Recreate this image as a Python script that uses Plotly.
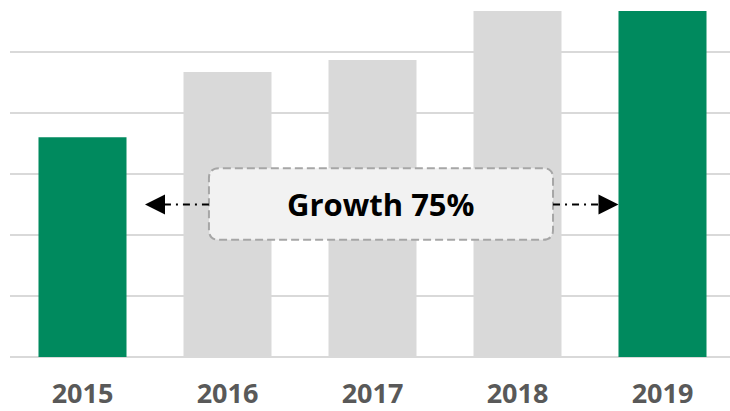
import plotly.graph_objects as go

# Yearly values; the first and last years are highlighted
years = ["2015", "2016", "2017", "2018", "2019"]
values = [72, 93.4, 97.3, 118, 126]
highlight = [True, False, False, False, True]
growth_label = "Growth 75%"

GREEN = "#008A5E"
GREY = "#D9D9D9"
bar_colors = [GREEN if h else GREY for h in highlight]

BAR_WIDTH = 0.607
x_idx = list(range(len(years)))

fig = go.Figure(
    go.Bar(
        x=x_idx,
        y=values,
        width=BAR_WIDTH,
        marker=dict(color=bar_colors, line=dict(width=0)),
        hoverinfo="skip",
    )
)

# Callout box (rounded, dashed) in data coordinates
bx0, bx1 = 0.872, 3.245
by0, by1 = 38.4, 61.9
rx, ry = 0.07, 3.3
box_path = (
    f"M {bx0 + rx},{by0} L {bx1 - rx},{by0} Q {bx1},{by0} {bx1},{by0 + ry} "
    f"L {bx1},{by1 - ry} Q {bx1},{by1} {bx1 - rx},{by1} "
    f"L {bx0 + rx},{by1} Q {bx0},{by1} {bx0},{by1 - ry} "
    f"L {bx0},{by0 + ry} Q {bx0},{by0} {bx0 + rx},{by0} Z"
)

arrow_y = 50
left_tip = 0.431
right_tip = x_idx[-1] - BAR_WIDTH / 2
head_len = 0.115

shapes = [
    dict(type="path", path=box_path, xref="x", yref="y",
         fillcolor="#F2F2F2",
         line=dict(color="#A6A6A6", width=2, dash="8px,4px")),
    dict(type="line", xref="x", yref="y",
         x0=bx0, x1=left_tip + head_len, y0=arrow_y, y1=arrow_y,
         line=dict(color="black", width=2, dash="7px,5px,2px,5px")),
    dict(type="line", xref="x", yref="y",
         x0=bx1, x1=right_tip - head_len, y0=arrow_y, y1=arrow_y,
         line=dict(color="black", width=2, dash="7px,5px,2px,5px")),
]

annotations = [
    dict(x=(bx0 + bx1) / 2, y=arrow_y, xref="x", yref="y",
         text=f"<b>{growth_label}</b>", showarrow=False,
         font=dict(family="Open Sans", size=31, color="black")),
    dict(x=left_tip, y=arrow_y, xref="x", yref="y", text="",
         showarrow=True, ax=18, ay=0, arrowhead=2, arrowsize=2.0,
         arrowwidth=2, arrowcolor="black", standoff=0),
    dict(x=right_tip, y=arrow_y, xref="x", yref="y", text="",
         showarrow=True, ax=-18, ay=0, arrowhead=2, arrowsize=2.0,
         arrowwidth=2, arrowcolor="black", standoff=0),
]

fig.update_layout(
    width=730,
    height=411,
    margin=dict(l=10, r=0, t=11, b=54),
    paper_bgcolor="white",
    plot_bgcolor="white",
    showlegend=False,
    shapes=shapes,
    annotations=annotations,
    xaxis=dict(
        range=[-0.5, 4.4655],
        tickmode="array",
        tickvals=x_idx,
        ticktext=[f"<b>{y}</b>" for y in years],
        tickfont=dict(family="Open Sans", size=27, color="#595959"),
        showgrid=False,
        zeroline=False,
        showline=False,
        ticks="",
        ticklabelstandoff=18,
        automargin=False,
        fixedrange=True,
    ),
    yaxis=dict(
        range=[0, 113.4],
        dtick=20,
        tick0=0,
        showticklabels=False,
        showgrid=True,
        gridcolor=GREY,
        gridwidth=1.5,
        zeroline=True,
        zerolinecolor=GREY,
        zerolinewidth=1.5,
        showline=False,
        ticks="",
        automargin=False,
        fixedrange=True,
    ),
)

fig.write_html("out.html", config={"displayModeBar": False})
